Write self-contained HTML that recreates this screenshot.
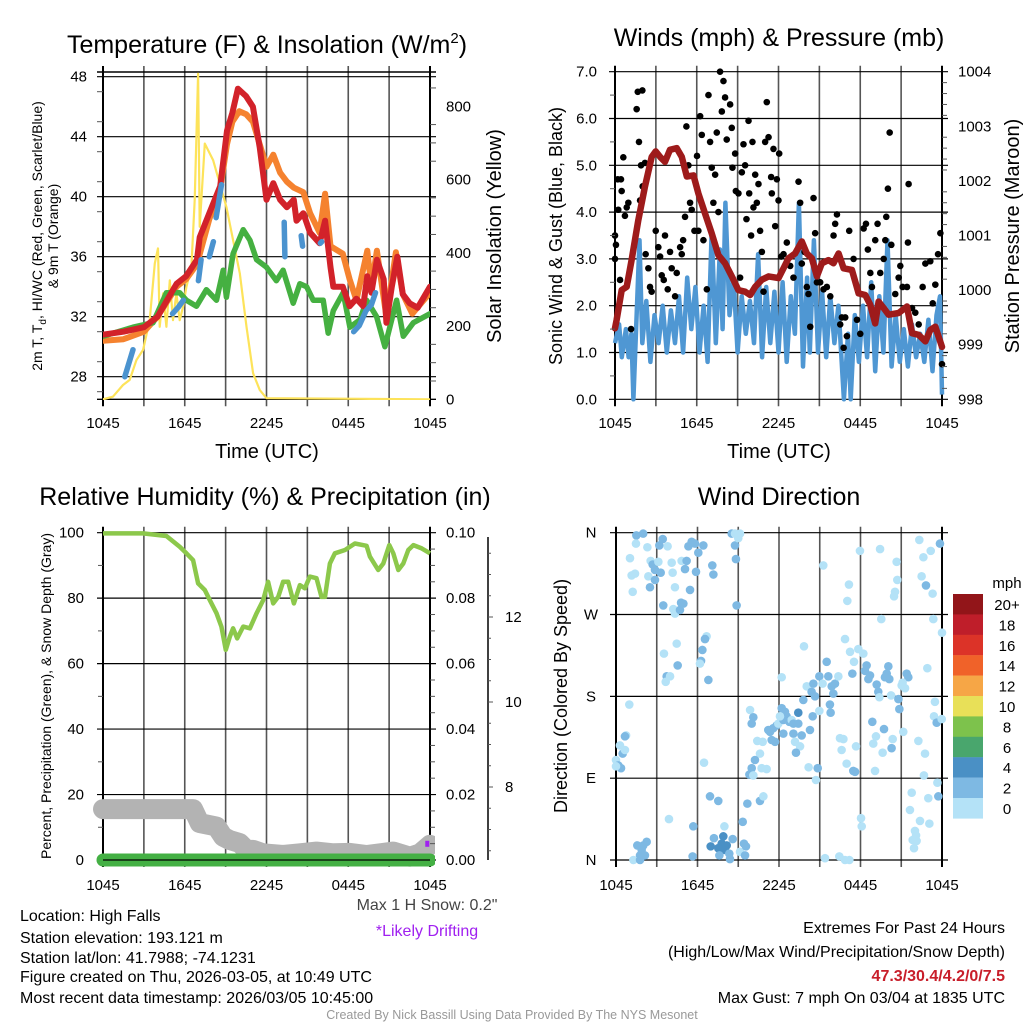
<!DOCTYPE html>
<html><head><meta charset="utf-8">
<style>
html,body{margin:0;padding:0;background:#fff;}
svg{display:block;font-family:"Liberation Sans",Arial,sans-serif;}
</style></head>
<body>
<svg id="s" width="1024" height="1024" viewBox="0 0 1024 1024" xmlns="http://www.w3.org/2000/svg">
<defs>
<clipPath id="c1"><rect x="103" y="72" width="327" height="328"/></clipPath>
<clipPath id="c2"><rect x="600" y="60" width="358" height="345"/></clipPath>
<clipPath id="c3"><rect x="90" y="525" width="345" height="350"/></clipPath>
<clipPath id="c4"><rect x="606" y="525" width="344" height="342"/></clipPath>
</defs>
<rect x="0" y="0" width="1024" height="1024" fill="#fff"/>
<g id="grids"></g>
<g id="marks"></g>
<g id="axes"></g>
<!-- Titles -->
<text x="267" y="53" font-size="25" text-anchor="middle">Temperature (F) &amp; Insolation (W/m<tspan dy="-10" font-size="15">2</tspan><tspan dy="10">)</tspan></text>
<text x="779" y="46" font-size="25" text-anchor="middle">Winds (mph) &amp; Pressure (mb)</text>
<text x="265" y="505" font-size="25" text-anchor="middle">Relative Humidity (%) &amp; Precipitation (in)</text>
<text x="779" y="505" font-size="25" text-anchor="middle">Wind Direction</text>
<!-- axis titles -->
<text x="267" y="458" font-size="20" text-anchor="middle">Time (UTC)</text>
<text x="779" y="458" font-size="20" text-anchor="middle">Time (UTC)</text>
<text transform="translate(42,236) rotate(-90)" font-size="14" text-anchor="middle">2m T, T<tspan dy="4" font-size="10">d</tspan><tspan dy="-4">, HI/WC (Red, Green, Scarlet/Blue)</tspan></text>
<text transform="translate(58,236) rotate(-90)" font-size="14" text-anchor="middle">&amp; 9m T (Orange)</text>
<text transform="translate(501,236) rotate(-90)" font-size="20" text-anchor="middle">Solar Insolation (Yellow)</text>
<text transform="translate(562,236) rotate(-90)" font-size="18" text-anchor="middle">Sonic Wind &amp; Gust (Blue, Black)</text>
<text transform="translate(1019,236) rotate(-90)" font-size="20" text-anchor="middle">Station Pressure (Maroon)</text>
<text transform="translate(51,696) rotate(-90)" font-size="14" text-anchor="middle">Percent, Precipitation (Green), &amp; Snow Depth (Gray)</text>
<text transform="translate(567,696) rotate(-90)" font-size="18" text-anchor="middle">Direction (Colored By Speed)</text>
<!-- colorbar label -->
<text x="1007" y="588" font-size="15" text-anchor="middle">mph</text>
<g id="cbar"></g>
<!-- bottom texts -->
<g font-size="16">
<text x="20" y="921">Location: High Falls</text>
<text x="20" y="943">Station elevation: 193.121 m</text>
<text x="20" y="963">Station lat/lon: 41.7988; -74.1231</text>
<text x="20" y="982">Figure created on Thu, 2026-03-05, at 10:49 UTC</text>
<text x="20" y="1003">Most recent data timestamp: 2026/03/05 10:45:00</text>
</g>
<text x="427" y="910" font-size="16" fill="#444" text-anchor="middle">Max 1 H Snow: 0.2"</text>
<text x="427" y="936" font-size="16" fill="#a020f0" text-anchor="middle">*Likely Drifting</text>
<g font-size="16" text-anchor="end">
<text x="1005" y="933">Extremes For Past 24 Hours</text>
<text x="1005" y="957">(High/Low/Max Wind/Precipitation/Snow Depth)</text>
<text x="1005" y="981" font-weight="bold" fill="#c81e2a">47.3/30.4/4.2/0/7.5</text>
<text x="1005" y="1003">Max Gust: 7 mph On 03/04 at 1835 UTC</text>
</g>
<text x="512" y="1019" font-size="12.5" fill="#999" text-anchor="middle">Created By Nick Bassill Using Data Provided By The NYS Mesonet</text>
</svg>
<script>
// ---------- data (hours since 1045 UTC) ----------
const timeLabels=["1045","1645","2245","0445","1045"];
const tempTicks=[28,32,36,40,44,48];
const solarTicks=[0,200,400,600,800];
const windTicks=["0.0","1.0","2.0","3.0","4.0","5.0","6.0","7.0"];
const presTicks=[998,999,1000,1001,1002,1003,1004];
const rhTicks=[0,20,40,60,80,100];
const precipTicks=["0.00","0.02","0.04","0.06","0.08","0.10"];
const snowTicks=[8,10,12];
const dirLabels=["N","E","S","W","N"];
const cbarLabels=["20+","18","16","14","12","10","8","6","4","2","0"];
const cbarColors=["#921519","#bf1e2a","#dc3328","#f06229","#f6a646","#e8e058","#7dc24c","#49a66d","#4a90c5","#7eb9e3","#b4e2f7"];

const redT=[0,1.5,3,4,4.7,5.4,6.1,6.9,7.1,7.8,8.6,9.1,9.5,9.9,10.5,11,11.5,12,12.5,13,13.5,14,14.2,14.7,15.2,15.9,16.3,16.7,16.9,17.6,18.1,18.6,19.1,19.4,19.7,20.1,20.6,20.8,21.2,21.6,22,22.5,23.1,24];
const redV=[30.8,31,31.3,32,33.1,34.2,34.7,35.8,37.3,38.9,40.7,44.4,45.6,47.2,46.7,46,43.3,39.8,40.9,39.8,39.3,39.8,38.4,38.9,37.6,36.9,38.4,35.3,34,34,32.7,33.2,32.7,34.7,33.6,35.8,34.5,31.6,34,36,33.5,32.9,32.6,34];
const orangeT=[0,1.5,3,4,4.7,5.4,6.1,6.9,7.8,8.6,9.1,9.5,10,10.5,11,11.5,12,12.5,13,13.5,14,14.7,15.2,15.9,16.3,16.7,17.6,18.1,18.6,19.4,19.7,20.1,20.8,21.5,22,22.7,24];
const orangeV=[30.4,30.5,31,32,33,34,34.5,35.5,38.5,40.5,43.5,45,45.7,45.5,45,43.5,42,42.8,41.6,41,40.6,40.3,38.9,37.6,40.2,36.7,36.2,34.5,33.1,36.4,34,36.4,32,36.3,33.5,32.2,33.6];
const greenT=[0,2.2,3.67,4.65,5.63,6.12,6.86,7.59,8.33,8.82,9.06,9.55,10.29,10.78,11.27,12,12.73,13.22,13.96,14.45,14.94,15.43,16.16,16.53,16.9,17.63,18.12,18.86,19.35,20.08,20.69,21.55,22.04,22.78,24];
const greenV=[30.7,31.3,31.6,33.6,33.6,33.1,32.7,33.8,33.1,35.1,33.3,36.2,37.8,37.1,35.8,35.3,34.4,35.1,32.9,34.2,34,33.1,33.1,30.9,32.4,33.6,31.3,31.8,33.1,32,30,33.1,30.7,31.6,32.2];
const wcT=[1.6,1.9,2.2,null,5.1,5.5,5.9,null,7.0,7.2,null,7.8,8.1,null,8.3,8.7,null,13.3,13.35,null,14.55,14.65,null,15.95,16.05,null,18.4,18.8,19.3,19.7,20.0];
const wcV=[28,28.9,29.8,null,32.2,32.6,33.1,null,34.4,35.8,null,36,37,null,38.6,40.8,null,38.3,36,null,37.4,36.7,null,36.9,37,null,31,31.4,32.4,32.8,33.6];
const solarT=[0,0.73,1.47,1.96,2.45,2.94,3.43,3.8,4.04,4.16,4.41,4.65,4.9,5.14,5.39,5.63,5.88,6.12,6.49,6.73,6.98,7.1,7.47,8.08,9.06,10.04,10.53,11.02,11.51,12,24];
const solarV=[0,7,39,53,107,135,216,371,412,198,289,198,325,216,289,216,253,307,362,544,889,471,698,653,525,344,198,71,25,3,0];

const windT=[0,0.3,0.5,0.8,1.0,1.2,1.35,1.55,1.8,2.0,2.3,2.6,2.9,3.2,3.5,3.8,4.1,4.4,4.7,5.0,5.3,5.6,5.9,6.2,6.5,6.8,7.1,7.4,7.7,7.9,8.1,8.4,8.7,9.0,9.3,9.6,9.9,10.2,10.5,10.8,11.1,11.4,11.7,12.0,12.3,12.6,12.9,13.2,13.5,13.8,14.1,14.3,14.6,14.9,15.2,15.5,15.8,16.1,16.4,16.7,16.8,17.1,17.3,17.6,17.9,18.2,18.5,18.8,19.1,19.4,19.7,20.0,20.3,20.6,20.9,21.2,21.5,21.8,22.1,22.4,22.7,23.0,23.3,23.6,23.85,24];
const windV=[1.2,1.6,0.9,1.5,0.9,1.4,0,1.5,3.4,1.2,2.1,0.8,1.8,1.2,2.0,1.0,1.9,1.2,2.2,1.0,2.6,1.5,2.4,1.0,2.0,0.8,3.6,1.2,3.2,1.5,4.2,1.8,2.6,1.0,2.2,1.4,2.1,1.2,3.1,0.9,2.4,1.2,2.3,1.0,2.5,0.8,2.2,1.4,4.2,0.7,2.6,1.0,3.4,1.0,2.3,0.9,2.2,1.2,2.0,0.5,0,1.4,0,1.8,0.8,2.0,0.9,2.5,0.6,2.2,1.0,3.4,0.7,1.8,0.8,1.5,0.7,1.6,0.9,1.4,0.8,1.7,0.6,1.8,2.2,0.1];
const gustT=[0,0.07,0,0.2,0.44,0.49,0.24,0.61,0.37,0.73,0.86,0.98,1.18,1.59,1.67,2.01,1.76,1.91,2.2,2.03,1.84,2.25,2.45,2.57,2.69,2.99,3.18,3.31,3.43,3.58,3.67,3.87,4.04,4.16,4.41,4.53,4.78,4.9,5.0,5.14,5.24,5.39,5.51,5.63,5.83,6.02,6.12,6.25,6.37,6.49,6.74,6.86,6.98,7.1,7.22,7.35,7.47,7.59,7.71,7.84,7.96,8.08,8.2,8.45,8.57,8.62,8.82,8.87,9.06,9.18,9.31,9.43,9.55,9.65,9.8,9.85,9.99,10.09,10.16,10.29,10.41,10.53,10.65,10.78,10.9,11.14,11.02,11.27,11.46,11.51,11.63,11.76,11.88,12.0,12.05,12.2,12.37,12.61,12.86,13.1,13.47,13.59,13.71,13.91,14.08,14.2,14.33,14.57,14.69,14.82,15.06,15.31,15.55,15.8,15.92,16.04,16.16,16.29,16.53,16.65,16.78,16.9,17.02,17.19,17.51,17.76,18.0,18.25,18.42,18.56,18.74,18.86,19.1,19.27,19.47,19.72,19.84,19.91,20.03,20.16,20.28,20.57,20.82,20.94,21.11,21.43,21.55,21.5,21.8,22.04,22.29,22.58,22.78,23.14,23.32,23.51,23.71,23.88,24.0];
const gustV=[3.5,3.3,3.0,4.7,4.7,4.45,4.05,5.17,2.55,3.92,4.1,4.2,1.5,6.2,6.57,6.6,5.5,5.0,5.05,4.55,4.25,3.1,2.8,2.4,2.3,3.6,3.25,3.05,2.65,2.55,3.5,2.35,3.15,2.8,2.2,2.7,3.25,3.1,3.4,3.9,5.83,5.0,4.2,4.05,3.6,5.2,3.6,6.05,5.65,3.4,2.35,6.5,5.5,4.95,4.2,4.8,5.7,4.0,7.0,6.15,6.8,6.45,5.55,6.3,5.8,4.95,5.25,4.45,4.4,2.6,4.85,5.45,5.0,3.85,5.95,4.4,3.5,5.5,4.1,4.8,4.2,4.6,3.6,3.15,2.3,6.35,5.5,5.6,4.75,4.4,5.35,3.7,4.7,4.25,5.25,3.05,3.1,3.35,2.85,2.6,4.65,4.2,2.9,3.15,2.4,2.25,1.55,4.3,3.55,2.5,2.5,2.35,2.4,2.2,2.95,3.5,3.75,3.95,1.6,1.75,1.1,1.75,1.35,3.6,3.0,1.7,1.4,3.65,3.75,3.2,2.7,2.4,3.4,3.75,2.7,3.0,3.4,3.9,4.5,5.7,3.3,2.25,2.6,2.85,2.4,2.4,4.6,3.35,1.95,1.85,1.6,2.4,2.9,2.95,2.05,2.45,3.1,3.55,0.75];
const presT=[0,0.12,0.49,0.86,1.22,1.71,2.2,2.69,2.99,3.31,3.67,4.04,4.53,4.9,5.27,5.76,6.12,6.61,7.1,7.59,8.08,8.57,9.06,9.55,9.92,10.29,10.78,11.27,12,12.37,12.73,13.22,13.71,14.08,14.45,14.82,15.18,15.67,16.04,16.41,16.78,17.39,17.88,18.37,18.74,19.1,19.35,19.72,20.08,20.82,21.43,21.8,22.29,22.78,23.14,23.51,24];
const presV=[999.3,999.45,1000,1000.06,1000.55,1001.28,1001.9,1002.44,1002.54,1002.44,1002.35,1002.57,1002.6,1002.44,1002.08,1002.1,1001.77,1001.4,1001.04,1000.64,1000.49,1000.25,1000,999.97,999.91,1000.06,1000.19,1000.25,1000.22,1000.4,1000.58,1000.67,1000.89,1000.67,1000.58,1000.25,1000.49,1000.55,1000.49,1000.67,1000.4,1000.37,999.94,999.91,999.73,999.39,999.79,999.67,999.55,999.58,999.7,999.21,999.18,999.06,999.27,999.33,998.96];

const rhT=[0,2.94,4.65,5.63,6.12,6.61,6.98,7.47,7.84,8.33,8.69,9.01,9.31,9.55,9.85,10.29,10.78,11.27,11.76,12.12,12.49,12.86,13.22,13.59,14.01,14.45,14.82,15.18,15.67,16.04,16.29,16.65,17.02,17.76,18.49,19.35,19.59,20.2,20.57,21.01,21.31,21.67,22.04,22.41,22.78,23.39,24];
const rhV=[99.8,99.8,99,95.7,93.7,91.6,84.5,82.5,79.4,75.4,71.3,64.2,68.2,70.8,67.7,71.3,70.8,75.4,79.4,85,78.4,80.4,85,85,78.4,84,83,86.6,86.1,80.4,80.4,90.6,93.7,94.7,96.7,96,92.7,88.6,90.6,96.2,93.7,88.6,90.6,94.7,96.2,95.2,93.7];
const snowT=[0,6.61,7.1,8.33,8.82,9.31,10.04,10.53,11.02,11.76,13.22,14.45,15.67,16.9,18.12,19.35,21.31,22.53,23.27,24];
const snowV=[7.48,7.48,7.15,7.07,6.83,6.75,6.68,6.52,6.52,6.44,6.4,6.44,6.48,6.44,6.45,6.4,6.48,6.36,6.44,6.64];
const precipT=[0,24];
const precipV=[0,0];

const dirT=[1.5,2.0,1.47,2.31,3.19,3.44,3.8,1.03,1.15,1.4,1.23,2.55,2.7,2.87,3.12,3.29,2.38,2.87,2.5,4.1,4.17,4.34,3.48,4.22,4.34,4.71,4.79,4.96,4.83,5.08,5.2,5.45,5.33,5.57,5.82,6.06,6.43,5.89,7.09,7.17,8.52,8.76,9.13,8.76,9.0,8.83,8.88,
0.98,3.53,4.47,4.54,3.73,3.66,3.98,6.67,6.55,6.36,6.26,6.18,6.8,0.74,0.66,0.29,0.49,0.66,0,0.17,0.37,0,6.48,3.9,
1.57,2.26,2.01,1.89,1.77,2.13,1.28,1.77,5.69,5.64,6.92,7.53,7.21,7.9,7.78,6.97,7.53,8.15,8.02,8.59,8.34,7.61,8.39,7.98,9.13,9.42,9.57,9.5,9.33,9.67,10.6,10.85,
9.87,10.11,9.99,10.4,10.8,11.34,11.46,11.71,11.21,11.58,11.83,11.95,12.2,12.44,12.56,12.76,12.93,12.32,12.07,13.06,13.42,13.42,13.06,13.18,13.55,13.25,12.32,13.67,14.28,13.79,14.04,14.4,14.53,14.65,14.97,15.21,15.51,15.63,15.88,16.0,16.12,16.37,15.75,15.8,14.97,14.48,10.6,10.23,9.99,9.82,10.11,10.72,11.09,14.18,14.85,14.72,13.84,12.2,
15.26,17.15,17.03,17.96,19.44,19.53,16.86,17.23,17.84,18.21,17.52,17.4,18.45,18.33,18.7,18.58,19.19,19.31,19.39,20.05,19.93,19.8,20.12,20.25,20.79,20.86,21.15,21.03,21.28,21.4,21.52,21.1,18.87,19.73,19.14,20.37,20.29,19.63,18.94,19.07,17.67,16.98,16.61,16.49,16.74,17.47,17.6,18.04,18.09,15.39,16.44,16.86,17.18,20.66,20.71,20.54,20.47,22.33,22.63,23.17,23.85,22.5,22.82,23.31,23.36,24,22.92,23.48,23.41,23.61,23.98,22.26,22.75,22.67,23.66,23.73,22.99,21.77,21.64,22.38,23.07,22.01,22.09,21.84,22.13,21.94];
const dirV=[357,359,348,344,346,353,345,332,313,315,295,329,325,319,328,316,312,308,300,327,316,300,280,276,271,275,283,282,329,320,329,297,345,350,348,338,346,317,324,314,359,359,359,346,354,331,280,
171,227,238,214,202,196,202,246,243,231,219,216,198,137,136,126,117,121,110,104,101,103,107,45,
16,20,16,11,5,5,0,0,37,4,70,65,24,26,18,15,13,16,11,23,7,5,1,37,9,18,15,5,42,62,65,70,
165,157,150,131,130,141,132,130,143,145,148,150,167,163,158,152,154,154,158,150,150,162,139,130,125,118,139,137,143,176,191,185,194,180,202,194,218,202,191,183,194,202,171,162,164,158,117,110,101,94,93,101,100,102,101,88,235,201,
324,303,285,340,342,265,243,229,232,227,218,205,214,208,203,199,193,185,179,213,205,201,199,181,177,166,141,192,189,205,201,195,152,144,136,133,123,118,128,98,125,106,121,134,133,98,97,46,37,2,4,0,0,328,308,295,290,352,333,340,348,312,302,293,265,250,211,174,158,151,155,131,117,93,85,70,68,74,55,43,40,32,27,22,21,13];
const dirS=[3,3,1,1,3,3,1,1,1,1,1,1,3,3,1,3,1,3,3,1,1,1,3,1,1,3,3,3,1,3,3,3,3,3,3,3,3,3,3,3,3,1,1,3,1,3,3,
1,1,1,3,3,1,1,1,3,3,3,1,3,1,3,1,3,1,1,3,3,1,1,1,
3,3,3,3,3,3,1,3,3,3,3,3,3,5,5,5,5,5,5,3,3,3,3,1,1,3,3,3,3,3,3,1,
1,3,3,1,1,3,3,3,3,3,3,1,3,3,3,3,1,3,1,3,3,5,3,1,1,3,3,3,3,3,1,3,3,3,3,1,3,3,3,3,3,1,3,3,1,3,1,3,3,3,1,1,1,1,3,1,1,1,
1,1,1,1,1,1,1,1,1,1,1,3,3,3,3,3,3,3,1,3,3,3,3,1,3,3,1,1,1,3,3,1,3,3,1,1,3,1,1,1,1,1,1,1,1,3,3,1,1,1,1,1,1,1,1,1,1,1,1,1,3,1,3,1,1,1,1,1,1,3,1,1,1,1,1,3,1,1,1,1,1,1,1,1,1,1];

// ---------- helpers ----------
const NS="http://www.w3.org/2000/svg";
const G=document.getElementById('grids'),M=document.getElementById('marks'),A=document.getElementById('axes');
function mk(tag,attrs,parent){const e=document.createElementNS(NS,tag);for(const k in attrs)e.setAttribute(k,attrs[k]);parent.appendChild(e);return e;}
function path(ts,vs,fx,fy){let d='',pen=false;for(let i=0;i<ts.length;i++){if(ts[i]===null||vs[i]===null){pen=false;continue;}d+=(pen?'L':'M')+fx(ts[i]).toFixed(1)+','+fy(vs[i]).toFixed(1);pen=true;}return d;}

const P=[
 {x0:103,x1:430,y0:72,y1:399.3},
 {x0:615,x1:942,y0:71.7,y1:399.3},
 {x0:103,x1:430,y0:532.7,y1:860},
 {x0:616,x1:942,y0:532.7,y1:860}];
function xs(p){return t=>p.x0+t*(p.x1-p.x0)/24;}

P.forEach((p,pi)=>{
 const fx=xs(p);
 for(let k=0;k<=8;k++){
  const x=fx(k*3);
  const l=mk('line',{x1:x,x2:x,y1:p.y0-6,y2:p.y1+7,stroke:(k==0||k==8)?'#000':'#555','stroke-width':(k==0||k==8)?2:1.6},G);
  
  
 }
 timeLabels.forEach((lab,i)=>{
  const t=mk('text',{x:fx(i*6),y:(pi<2?428:890),'font-size':15,'text-anchor':'middle'},A);
  t.textContent=lab;
  
  
 });
});
function hgrid(p,y,isFrame){const l=mk('line',{x1:p.x0-6,x2:p.x1+6,y1:y,y2:y,stroke:'#000','stroke-width':isFrame?1.4:1.2},G);
 
 }
function label(x,y,txt,anchor,size){const t=mk('text',{x:x,y:y+5,'font-size':size||15,'text-anchor':anchor},A);t.textContent=txt;
 
 return t;}
function minor(x,y,len){const l=mk('line',{x1:x,x2:x+len,y1:y,y2:y,stroke:'#555','stroke-width':1},A);
 
 }

// ---- Panel 1 ----
const p1=P[0],x1=xs(p1);
const yT=v=>76.7+(48-v)*15, yS=w=>399.3-w*0.3663;
hgrid(p1,p1.y0,true);hgrid(p1,p1.y1,true);
tempTicks.forEach(v=>{hgrid(p1,yT(v));label(87,yT(v),String(v),'end');});
solarTicks.forEach(v=>label(446,yS(v),String(v),'start'));
for(let w=50;w<900;w+=50)if(w%200)minor(p1.x1,yS(w),6);
for(let v=27;v<48;v+=2)minor(p1.x0-6,yT(v),6);
const m1=mk('g',{'clip-path':'url(#c1)'},M);
[[solarT,solarV,'#fde35a',2.2,'insolation-line',yS],[orangeT,orangeV,'#f5822f',6,'9m-temp-line',yT],[greenT,greenV,'#45b041',5.5,'dewpoint-line',yT],[redT,redV,'#d2222a',6,'2m-temp-line',yT],[wcT,wcV,'#4b93cf',5.5,'windchill-line',yT]].forEach(s=>{
 const e=mk('path',{d:path(s[0],s[1],x1,s[5]),fill:'none',stroke:s[2],'stroke-width':s[3],'stroke-linejoin':'round','stroke-linecap':'round'},m1);
 
 
});

// ---- Panel 2 ----
const p2=P[1],x2=xs(p2);
const yW=v=>399.3-v*46.8, yP=p=>399.3-(p-998)*54.6;
windTicks.forEach(v=>{hgrid(p2,yW(+v));label(597,yW(+v),v,'end');});
presTicks.forEach(v=>label(958,yP(v),String(v),'start'));
for(let q=998.2;q<1004;q+=0.2){if(Math.abs(q-Math.round(q))>0.05)minor(p2.x1,yP(q),5);}
for(let v=0.5;v<7;v+=1)minor(p2.x0-5,yW(v),5);
const m2=mk('g',{'clip-path':'url(#c2)'},M);
let e=mk('path',{d:path(windT,windV,x2,yW),fill:'none',stroke:'#4f97d3','stroke-width':4.5,'stroke-linejoin':'round'},m2);


gustT.forEach((t,i)=>{const c=mk('circle',{cx:x2(t),cy:yW(gustV[i]),r:3.3,fill:'#000'},m2);
 
 });
e=mk('path',{d:path(presT,presV,x2,yP),fill:'none',stroke:'#9e1b1b','stroke-width':6.5,'stroke-linejoin':'round','stroke-linecap':'round'},m2);



// ---- Panel 3 ----
const p3=P[2],x3=xs(p3);
const yR=v=>860-v*3.273, ySn=s=>787-(s-8)*42.5;
rhTicks.forEach((v,i)=>{hgrid(p3,yR(v));label(84,yR(v),String(v),'end');label(446,yR(v),precipTicks[i],'start');});
for(let v=10;v<100;v+=20)minor(p3.x0-5,yR(v),5);
for(let v=5;v<100;v+=5)if(v%20)minor(p3.x1,yR(v),5);
const sa=mk('line',{x1:488,x2:488,y1:537,y2:860,stroke:'#000','stroke-width':1.5},A);


snowTicks.forEach(v=>{minor(488,ySn(v),5);label(505,ySn(v),String(v),'start');});
for(let s=6.5;s<14;s+=0.5){const y=ySn(s);if(y>537&&y<860&&s%2)minor(488,y,3);}
const m3=mk('g',{'clip-path':'url(#c3)'},M);
e=mk('path',{d:path(rhT,rhV,x3,yR),fill:'none',stroke:'#8cc84b','stroke-width':4.5,'stroke-linejoin':'round'},m3);


e=mk('path',{d:path(snowT,snowV,x3,ySn),fill:'none',stroke:'#b3b3b3','stroke-width':20,'stroke-linejoin':'round','stroke-linecap':'round'},m3);


e=mk('path',{d:path(precipT,precipV,x3,yR),fill:'none',stroke:'#44b044','stroke-width':13,'stroke-linecap':'round'},m3);


e=mk('line',{x1:p3.x0,x2:p3.x1,y1:860,y2:860,stroke:'#000','stroke-width':1.3},m3);


e=mk('rect',{x:x3(23.8)-2,y:ySn(6.64)-4,width:4,height:6,fill:'#a020f0'},m3);



// ---- Panel 4 ----
const p4=P[3],x4=xs(p4);
const yD=d=>860-d*327.3/360;
dirLabels.forEach((l,i)=>{hgrid(p4,yD(i*90));label(591,yD(i*90),l,'middle');});
function speedColor(s){let idx=Math.min(10,Math.floor(s/2));return cbarColors[10-idx];}
const m4=mk('g',{'clip-path':'url(#c4)'},M);
dirT.forEach((t,i)=>{const c=mk('circle',{cx:x4(t),cy:yD(dirV[i]),r:4.3,fill:speedColor(dirS[i])},m4);
 
 });
const CB=document.getElementById('cbar');
cbarColors.forEach((c,i)=>{const y=594+i*20.4;
 const r=mk('rect',{x:953,y:y,width:30,height:20.6,fill:c},CB);
 
 
 const t=mk('text',{x:1007,y:y+16,'font-size':15,'text-anchor':'middle'},CB);
 t.textContent=cbarLabels[i];
 
 
});
</script>
</body></html>
